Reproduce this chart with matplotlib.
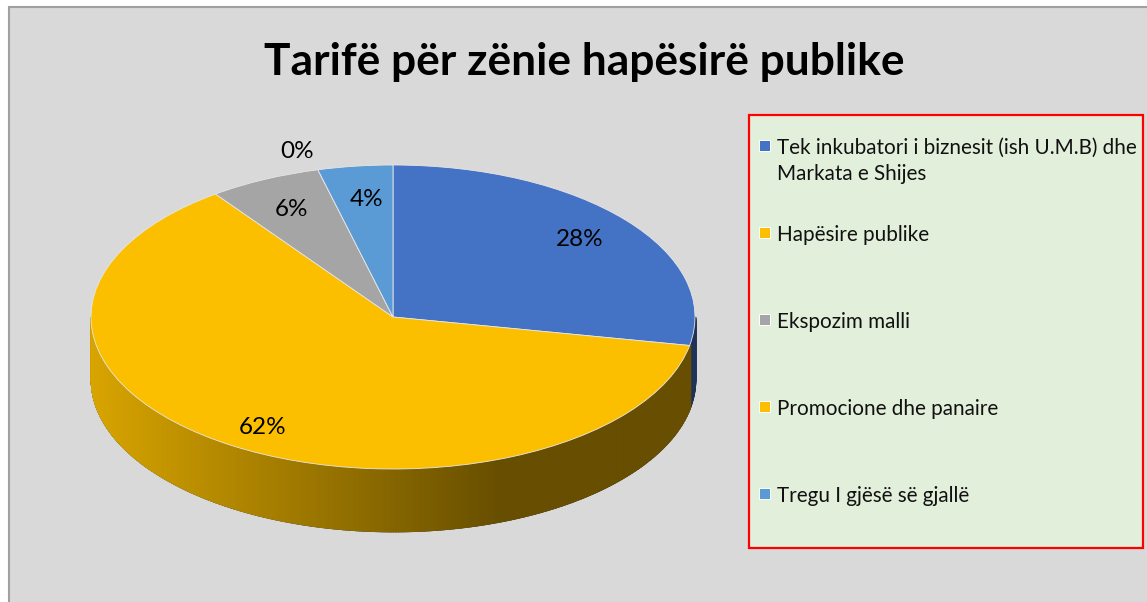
import numpy as np
import matplotlib
matplotlib.use("Agg")
import matplotlib.pyplot as plt
from matplotlib.colors import to_rgb
from matplotlib.patches import Rectangle

title = "Tarifë për zënie hapësirë publike"
values = [28, 62, 6, 0, 4]
colors = ["#4472C4", "#FBBF00", "#A5A5A5", "#FBBF00", "#5B9BD5"]
legend_lines = [
    ["Tek inkubatori i biznesit (ish U.M.B) dhe", "Markata e Shijes"],
    ["Hapësire publike"],
    ["Ekspozim malli"],
    ["Promocione dhe panaire"],
    ["Tregu I gjësë së gjallë"],
]
pct_xy = [(580, 240), (263, 427), (291, 210), (297, 152), (367, 200)]
legend_y = [148, 235, 322, 409, 496]

W, H = 1147, 602
plt.rcParams["font.family"] = ["Lato", "DejaVu Sans"]
fig = plt.figure(figsize=(W / 100, H / 100), dpi=100, facecolor="white")

# pixel overlay for background, text and legend
bg = fig.add_axes([0, 0, 1, 1], zorder=0)
bg.set_xlim(0, W)
bg.set_ylim(H, 0)
bg.axis("off")
bg.add_patch(Rectangle((9, 7), W, H, facecolor="#D9D9D9", edgecolor="#A0A0A0", lw=1.5))
bg.text(584.5, 62, title, fontsize=31.9, fontweight="bold", ha="center", va="center", color="black")

# box
bg.add_patch(Rectangle((749, 115), 394, 433, facecolor="#E2EFDA", edgecolor="#FF0000", lw=1.6))
for i, lines in enumerate(legend_lines):
    y = legend_y[i]
    bg.add_patch(Rectangle((758.5, y - 8), 11, 11, facecolor=colors[i], edgecolor="white", lw=0.7))
    for j, line in enumerate(lines):
        bg.text(777, y + j * 26, line, fontsize=14.9, ha="left", va="center", color="#111111")

# pie is stretched to an ellipse, side is drawn under it
cx0, rx = 393, 302
cy0, ry = 317, 152
depth = 62 / ry
bottom = cy0 + ry + 62
ax = fig.add_axes([(cx0 - rx) / W, (H - bottom) / H, 2 * rx / W, (bottom - (cy0 - ry)) / H], zorder=1)

cum = np.cumsum([0] + values)
angles = 90 - 3.6 * cum
dark_x = (502 - cx0) / rx

for i in range(len(values)):
    a1, a2 = angles[i + 1], angles[i]
    # only the front half of the rim shows
    for t in np.arange(-180, 0, 0.5):
        t2 = t + 0.5
        if t2 <= a1 - 360 or t >= a2:
            if not (t2 > a1 and t < a2):
                continue
        x = np.cos(np.radians([t, t2]))
        y = np.sin(np.radians([t, t2]))
        k = np.clip((x.mean() + 1) / (dark_x + 1), 0, 1)
        shade = 0.86 + (0.41 - 0.86) * k
        if i == 0:
            shade = 0.45
        c = np.array(to_rgb(colors[i])) * shade
        ax.fill_between(x, y, y - depth, color=c, lw=1.2, clip_on=False, zorder=1)

wedges, _ = ax.pie(values, colors=colors, startangle=90, counterclock=False, radius=1,
                   wedgeprops={"edgecolor": "#E6E6E6", "linewidth": 0.6, "clip_on": False, "zorder": 2})
ax.set_aspect("auto")
ax.set_xlim(-1, 1)
ax.set_ylim(-1 - depth, 1)
ax.axis("off")

# labels above the pie
top = fig.add_axes([0, 0, 1, 1], zorder=2)
top.set_xlim(0, W)
top.set_ylim(H, 0)
top.axis("off")
top.patch.set_alpha(0)
for v, (x, y) in zip(values, pct_xy):
    top.text(x, y, f"{v}%", fontsize=17.5, ha="center", va="center", color="black")

fig.savefig("out.png", dpi=100)
